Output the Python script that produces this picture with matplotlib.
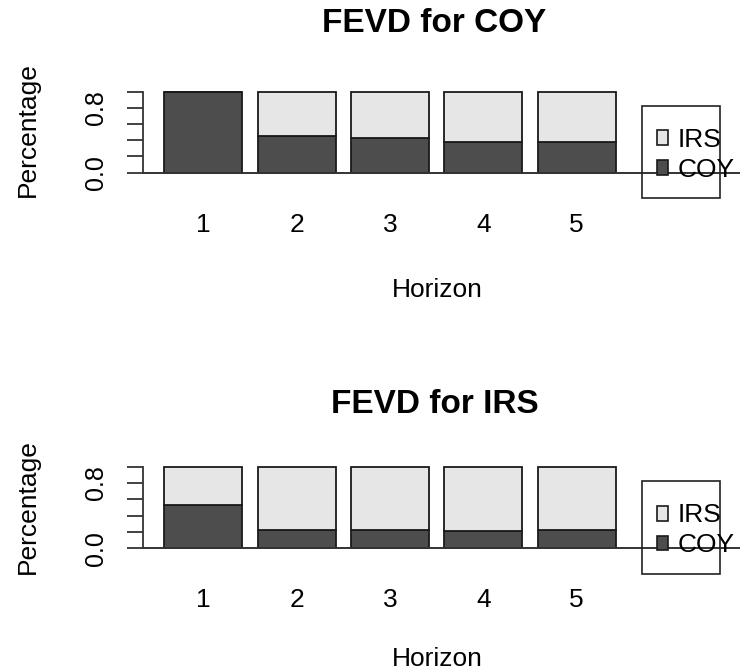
import numpy as np
import matplotlib.pyplot as plt
from matplotlib.patches import Rectangle

plt.rcParams['font.family'] = ['Liberation Sans', 'DejaVu Sans']

horizons = [1, 2, 3, 4, 5]
# FEVD for COY
coy_from_coy = [1.00, 0.45, 0.43, 0.38, 0.38]
coy_from_irs = [0.00, 0.55, 0.57, 0.62, 0.62]
# FEVD for IRS
irs_from_coy = [0.53, 0.22, 0.22, 0.21, 0.22]
irs_from_irs = [0.47, 0.78, 0.78, 0.79, 0.78]

panels = [("FEVD for COY", coy_from_coy, coy_from_irs),
          ("FEVD for IRS", irs_from_coy, irs_from_irs)]

dark = '#4d4d4d'
light = '#e6e6e6'
edge = '#1a1a1a'
fs = 19

W, H = 740, 671
fig = plt.figure(figsize=(W / 100, H / 100), dpi=100)

# axes rectangles (figure fractions), one per panel
rects = [[0.1932, 0.6882, 0.8068, 0.1778],
         [0.1932, 0.1282, 0.8068, 0.1787]]
title_y = [0.9528, 0.3845]
xlab_y = [0.5574, 0.008]
ylab_y = [0.8063, 0.2449]

for k, (title, low, high) in enumerate(panels):
    ax = fig.add_axes(rects[k])
    x = np.array(horizons)
    ax.bar(x, low, width=0.836, color=dark, edgecolor=edge, linewidth=1.3, zorder=3)
    ax.bar(x, high, width=0.836, bottom=low, color=light, edgecolor=edge,
           linewidth=1.3, zorder=3)
    ax.axhline(0, color='#333333', linewidth=1.4, zorder=4)

    ax.set_xlim(0.354, 6.752)
    ax.set_ylim(-0.45, 1.02)
    for s in ['top', 'right', 'bottom']:
        ax.spines[s].set_visible(False)
    ax.spines['left'].set_bounds(0, 1)
    ax.spines['left'].set_linewidth(1.3)
    ax.spines['left'].set_color('#333333')

    ax.set_yticks([0, 0.2, 0.4, 0.6, 0.8, 1.0])
    ax.set_yticklabels(['0.0', '', '', '', '0.8', ''], rotation=90, va='center')
    ax.tick_params(axis='y', length=11.5, width=1.3, color='#333333',
                   pad=14, labelsize=18)
    ax.set_xticks(x)
    ax.set_xticklabels([str(h) for h in horizons])
    ax.tick_params(axis='x', length=0, pad=2.4, labelsize=fs)

    # legend drawn R-style (text overflows the box)
    ax.add_patch(Rectangle((5.702, -0.31), 0.834, 1.13, fill=False,
                           edgecolor='#222222', linewidth=1.2, clip_on=False, zorder=5))
    ax.add_patch(Rectangle((5.86, 0.34), 0.125, 0.18, facecolor=light,
                           edgecolor=edge, linewidth=1.2, clip_on=False, zorder=6))
    ax.add_patch(Rectangle((5.86, -0.025), 0.125, 0.18, facecolor=dark,
                           edgecolor=edge, linewidth=1.2, clip_on=False, zorder=6))
    ax.text(6.08, 0.32, 'IRS', fontsize=fs, va='baseline', ha='left', zorder=6)
    ax.text(6.08, -0.05, 'COY', fontsize=fs, va='baseline', ha='left', zorder=6)

    fig.text(0.5872, title_y[k], title, fontsize=24, fontweight='bold',
             ha='center', va='baseline')
    fig.text(0.5905, xlab_y[k], 'Horizon', fontsize=fs, ha='center', va='baseline')
    fig.text(0.0378, ylab_y[k], 'Percentage', fontsize=fs, rotation=90,
             ha='center', va='center')

fig.savefig('out.png', dpi=100)
